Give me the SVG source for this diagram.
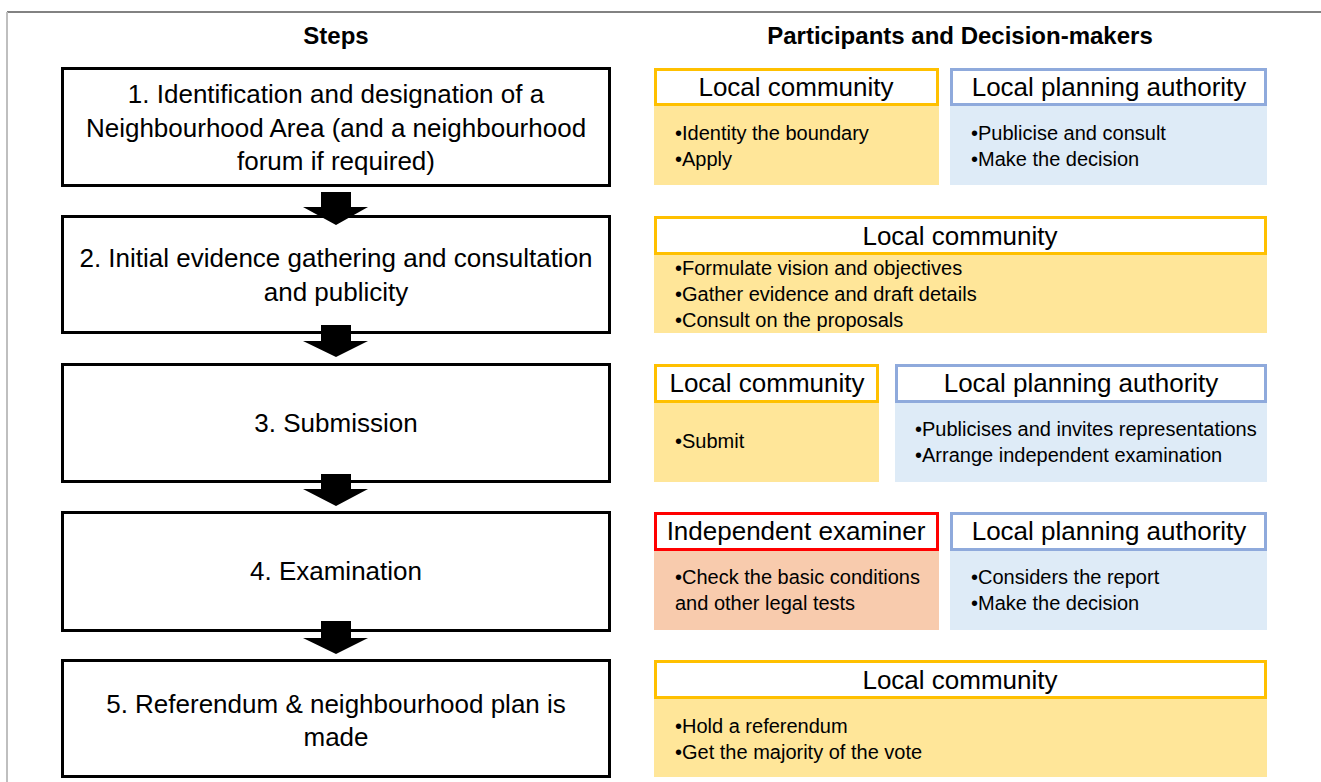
<svg xmlns="http://www.w3.org/2000/svg" width="1321" height="782" viewBox="0 0 1321 782">
<style>
.frame-top{stroke:#595959;stroke-width:1.5;fill:none}
.frame-left{stroke:#BFBFBF;stroke-width:2;fill:none}
.step{fill:#fff;stroke:#000;stroke-width:3}
.steptxt{font-family:"Liberation Sans",Arial,sans-serif;font-size:26px;fill:#000;text-anchor:middle}
.title{font-family:"Liberation Sans",Arial,sans-serif;font-size:24px;font-weight:bold;fill:#000;text-anchor:middle}
.hdr{fill:#fff;stroke-width:3}
.hdr-o{stroke:#FFC000}
.hdr-b{stroke:#8FAADC}
.hdr-r{stroke:#FF0000}
.body-o{fill:#FFE699}
.body-b{fill:#DEEBF7}
.body-r{fill:#F8CBAD}
.htxt{font-family:"Liberation Sans",Arial,sans-serif;font-size:26px;fill:#000;text-anchor:middle}
.btxt{font-family:"Liberation Sans",Arial,sans-serif;font-size:20px;fill:#000}
.arrow{fill:#000}
</style>
<rect width="1321" height="782" fill="#fff"/>
<line class="frame-top" x1="7" y1="12" x2="1321" y2="12"/>
<line class="frame-left" x1="7" y1="12" x2="7" y2="782"/>
<text class="title" x="336" y="44">Steps</text>
<text class="title" x="960" y="44">Participants and Decision-makers</text>

<g id="step1">
<rect class="step" x="62.5" y="68.5" width="547" height="117"/>
<text class="steptxt" x="336" y="103">1. Identification and designation of a</text>
<text class="steptxt" x="336" y="137">Neighbourhood Area (and a neighbourhood</text>
<text class="steptxt" x="336" y="170">forum if required)</text>
</g>
<g id="step2">
<rect class="step" x="62.5" y="216.5" width="547" height="116"/>
<text class="steptxt" x="336" y="267">2. Initial evidence gathering and consultation</text>
<text class="steptxt" x="336" y="301">and publicity</text>
</g>
<g id="step3">
<rect class="step" x="62.5" y="364.5" width="547" height="117"/>
<text class="steptxt" x="336" y="432">3. Submission</text>
</g>
<g id="step4">
<rect class="step" x="62.5" y="512.5" width="547" height="118"/>
<text class="steptxt" x="336" y="580">4. Examination</text>
</g>
<g id="step5">
<rect class="step" x="62.5" y="660.5" width="547" height="116"/>
<text class="steptxt" x="336" y="713">5. Referendum &amp; neighbourhood plan is</text>
<text class="steptxt" x="336" y="746">made</text>
</g>

<g id="connectors">
<polygon class="arrow" points="321,192 351,192 351,207 368,207 336,225 303,207 321,207"/>
<polygon class="arrow" points="321,325 351,325 351,341 368,341 336,357 303,341 321,341"/>
<polygon class="arrow" points="321,474 351,474 351,489 368,489 336,506 303,489 321,489"/>
<polygon class="arrow" points="321,621 351,621 351,638 368,638 336,654 303,638 321,638"/>
</g>

<g id="p1-community">
<rect class="body-o" x="654" y="104" width="285" height="81"/>
<rect class="hdr hdr-o" x="655.5" y="69.5" width="282" height="35"/>
<text class="htxt" x="796" y="96">Local community</text>
<text class="btxt" x="675" y="140">•Identity the boundary</text>
<text class="btxt" x="675" y="166">•Apply</text>
</g>
<g id="p1-lpa">
<rect class="body-b" x="950" y="104" width="317" height="81"/>
<rect class="hdr hdr-b" x="951.5" y="69.5" width="314" height="35"/>
<text class="htxt" x="1109" y="96">Local planning authority</text>
<text class="btxt" x="971" y="140">•Publicise and consult</text>
<text class="btxt" x="971" y="166">•Make the decision</text>
</g>

<g id="p2-community">
<rect class="body-o" x="654" y="253" width="613" height="80"/>
<rect class="hdr hdr-o" x="655.5" y="217.5" width="610" height="36"/>
<text class="htxt" x="960" y="245">Local community</text>
<text class="btxt" x="675" y="275">•Formulate vision and objectives</text>
<text class="btxt" x="675" y="301">•Gather evidence and draft details</text>
<text class="btxt" x="675" y="327">•Consult on the proposals</text>
</g>

<g id="p3-community">
<rect class="body-o" x="654" y="401" width="225" height="81"/>
<rect class="hdr hdr-o" x="655.5" y="365.5" width="222" height="36"/>
<text class="htxt" x="767" y="392">Local community</text>
<text class="btxt" x="675" y="448">•Submit</text>
</g>
<g id="p3-lpa">
<rect class="body-b" x="895" y="401" width="372" height="81"/>
<rect class="hdr hdr-b" x="896.5" y="365.5" width="369" height="36"/>
<text class="htxt" x="1081" y="392">Local planning authority</text>
<text class="btxt" x="915" y="436">•Publicises and invites representations</text>
<text class="btxt" x="915" y="462">•Arrange independent examination</text>
</g>

<g id="p4-examiner">
<rect class="body-r" x="654" y="549" width="285" height="81"/>
<rect class="hdr hdr-r" x="655.5" y="513.5" width="282" height="36"/>
<text class="htxt" x="796" y="540">Independent examiner</text>
<text class="btxt" x="675" y="584">•Check the basic conditions</text>
<text class="btxt" x="675" y="610">and other legal tests</text>
</g>
<g id="p4-lpa">
<rect class="body-b" x="950" y="549" width="317" height="81"/>
<rect class="hdr hdr-b" x="951.5" y="513.5" width="314" height="36"/>
<text class="htxt" x="1109" y="540">Local planning authority</text>
<text class="btxt" x="971" y="584">•Considers the report</text>
<text class="btxt" x="971" y="610">•Make the decision</text>
</g>

<g id="p5-community">
<rect class="body-o" x="654" y="697" width="613" height="80"/>
<rect class="hdr hdr-o" x="655.5" y="661.5" width="610" height="36"/>
<text class="htxt" x="960" y="689">Local community</text>
<text class="btxt" x="675" y="733">•Hold a referendum</text>
<text class="btxt" x="675" y="759">•Get the majority of the vote</text>
</g>
</svg>
